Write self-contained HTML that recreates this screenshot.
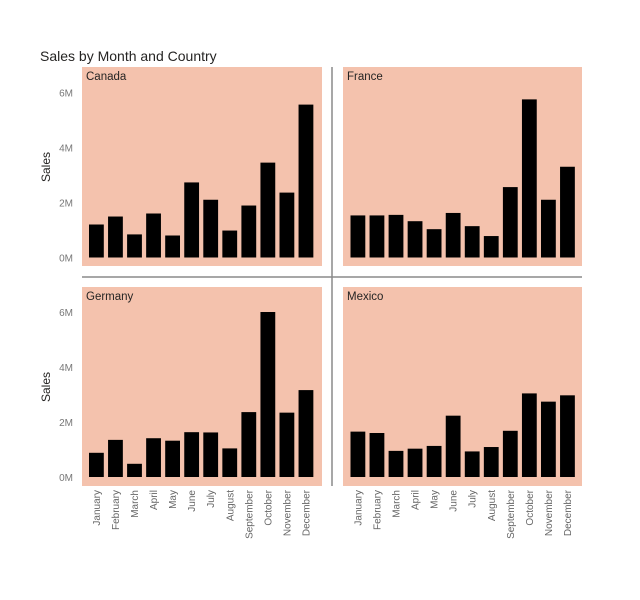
<!DOCTYPE html>
<html><head><meta charset="utf-8"><style>
body{margin:0;background:#fff;}
svg{display:block;font-family:"Liberation Sans","DejaVu Sans",sans-serif;}
</style></head><body>
<svg id="chart" width="640" height="600" viewBox="0 0 640 600" xmlns="http://www.w3.org/2000/svg">
<text x="40" y="61" font-size="14" fill="#252423">Sales by Month and Country</text>
<line x1="332" y1="67" x2="332" y2="486" stroke="#8a8a8a" stroke-width="1.5"/>
<line x1="82" y1="277" x2="582" y2="277" stroke="#8a8a8a" stroke-width="1.5"/>
<g id="panels"></g>
</svg>
<script>
const months = ["January","February","March","April","May","June","July","August","September","October","November","December"];
const countries = ["Canada","France","Germany","Mexico"];
const canadaSales = [1.2,1.49,0.84,1.6,0.8,2.73,2.1,0.98,1.89,3.45,2.36,5.56];
const franceSales = [1.53,1.53,1.55,1.32,1.03,1.62,1.14,0.78,2.56,5.75,2.1,3.3];
const germanySales = [0.88,1.35,0.48,1.41,1.32,1.63,1.62,1.04,2.36,6.0,2.34,3.16];
const mexicoSales = [1.65,1.6,0.95,1.03,1.13,2.23,0.93,1.09,1.68,3.04,2.74,2.97];
const yTicks = [0,2,4,6];
const yTickLabels = ["0M","2M","4M","6M"];

const ns = "http://www.w3.org/2000/svg";
const root = document.getElementById('panels');
function mk(tag, attrs, parent){const e=document.createElementNS(ns,tag);for(const k in attrs)e.setAttribute(k,attrs[k]);parent.appendChild(e);return e;}
const series = [canadaSales, franceSales, germanySales, mexicoSales];
const layout = [
  {x:82,y:67,w:240,h:199,base:257.5,first:89,showY:true,showX:false},
  {x:343,y:67,w:239,h:199,base:257.5,first:350.5,showY:false,showX:false},
  {x:82,y:287,w:240,h:199,base:477,first:89,showY:true,showX:true},
  {x:343,y:287,w:239,h:199,base:477,first:350.5,showY:false,showX:true}
];
const pxPerM = 27.5, step = 19.05, bw = 14.8;
countries.forEach((c,i)=>{
  const L = layout[i];
  const g = mk('g',{},root);
  
  
  const bg = mk('rect',{x:L.x,y:L.y,width:L.w,height:L.h,fill:'#f4c2ad'},g);
  
  
  const t = mk('text',{x:L.x+4,y:L.y+13,'font-size':11.5,fill:'#252423'},g);
  t.textContent = c;
  
  
  const yScale = v => L.base - v*pxPerM;
  if (L.showY){
    yTicks.forEach((v,k)=>{
      const tl = mk('text',{x:73,y:yScale(v)+4,'font-size':10,fill:'#777','text-anchor':'end'},g);
      tl.textContent = yTickLabels[k];
      
      
    });
    const cy = L.y + 100;
    const yt = mk('text',{x:50,y:cy,'font-size':12,fill:'#252423','text-anchor':'middle',transform:`rotate(-90 50 ${cy})`},g);
    yt.textContent = 'Sales';
    
    
  }
  series[i].forEach((v,k)=>{
    const bx = L.first + k*step;
    const r = mk('rect',{x:bx,y:yScale(v),width:bw,height:v*pxPerM,fill:'#000'},g);
    
    
    if (L.showX){
      const cx = bx + bw/2 + 3.5, ty = 490;
      const ml = mk('text',{x:cx,y:ty,'font-size':10,fill:'#666','text-anchor':'end',transform:`rotate(-90 ${cx} ${ty})`},g);
      ml.textContent = months[k];
      
      
    }
  });
});
</script>
</body></html>
